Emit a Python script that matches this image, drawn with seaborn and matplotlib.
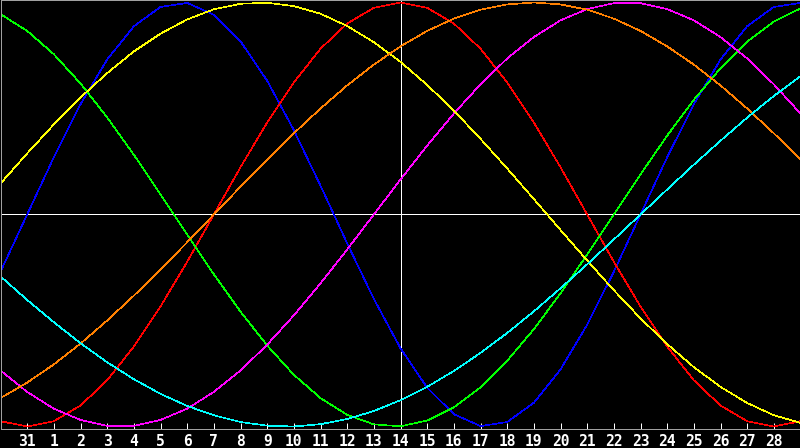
import matplotlib
matplotlib.use("Agg")
import matplotlib.pyplot as plt
import seaborn as sns
import pandas as pd

# x positions: one sample per day (30 Jan ... 1 Mar), day 14 at the centre
days = list(range(31))

tick_pos = [1, 2, 3, 4, 5, 6, 7, 8, 9, 10, 11, 12, 13, 14, 15, 16, 17, 18, 19, 20,
            21, 22, 23, 24, 25, 26, 27, 28, 29]
tick_labels = ["31", "1", "2", "3", "4", "5", "6", "7", "8", "9", "10", "11", "12",
               "13", "14", "15", "16", "17", "18", "19", "20", "21", "22", "23",
               "24", "25", "26", "27", "28"]

physical = [-0.270, 0.000, 0.270, 0.520, 0.731, 0.888, 0.979, 0.998, 0.942, 0.817,
            0.631, 0.398, 0.136, -0.136, -0.398, -0.631, -0.817, -0.942, -0.998, -0.979,
            -0.888, -0.731, -0.520, -0.270, 0.000, 0.270, 0.520, 0.731, 0.888, 0.979, 0.998]
emotional = [-0.975, -1.000, -0.975, -0.901, -0.782, -0.623, -0.434, -0.223, 0.000, 0.223,
             0.434, 0.623, 0.782, 0.901, 0.975, 1.000, 0.975, 0.901, 0.782, 0.623,
             0.434, 0.223, 0.000, -0.223, -0.434, -0.623, -0.782, -0.901, -0.975, -1.000, -0.975]
intellectual = [0.945, 0.866, 0.756, 0.618, 0.458, 0.282, 0.095, -0.095, -0.282, -0.458,
                -0.618, -0.756, -0.866, -0.945, -0.990, -0.999, -0.972, -0.910, -0.815, -0.690,
                -0.541, -0.372, -0.189, 0.000, 0.189, 0.372, 0.541, 0.690, 0.815, 0.910, 0.972]
intuitive = [-0.736, -0.837, -0.916, -0.969, -0.997, -0.997, -0.969, -0.916, -0.837, -0.736,
             -0.614, -0.476, -0.325, -0.165, 0.000, 0.165, 0.325, 0.476, 0.614, 0.736,
             0.837, 0.916, 0.969, 0.997, 0.997, 0.969, 0.916, 0.837, 0.736, 0.614, 0.476]
aesthetic = [0.146, 0.288, 0.425, 0.552, 0.667, 0.769, 0.853, 0.920, 0.968, 0.994,
             0.999, 0.983, 0.947, 0.889, 0.813, 0.720, 0.611, 0.490, 0.357, 0.217,
             0.073, -0.073, -0.217, -0.357, -0.490, -0.611, -0.720, -0.813, -0.889, -0.947, -0.983]
awareness = [-0.866, -0.793, -0.707, -0.609, -0.500, -0.383, -0.259, -0.131, 0.000, 0.131,
             0.259, 0.383, 0.500, 0.609, 0.707, 0.793, 0.866, 0.924, 0.966, 0.991,
             1.000, 0.991, 0.966, 0.924, 0.866, 0.793, 0.707, 0.609, 0.500, 0.383, 0.259]
spiritual = [-0.292, -0.403, -0.508, -0.607, -0.697, -0.777, -0.846, -0.903, -0.947, -0.979,
             -0.996, -1.000, -0.989, -0.965, -0.927, -0.876, -0.813, -0.738, -0.653, -0.559,
             -0.457, -0.348, -0.235, -0.118, 0.000, 0.118, 0.235, 0.348, 0.457, 0.559, 0.653]

series = {
    "Physical": physical,
    "Emotional": emotional,
    "Intellectual": intellectual,
    "Intuitive": intuitive,
    "Aesthetic": aesthetic,
    "Awareness": awareness,
    "Spiritual": spiritual,
}
palette = {
    "Physical": "#0000ff",
    "Emotional": "#ff0000",
    "Intellectual": "#00ff00",
    "Intuitive": "#ff00ff",
    "Aesthetic": "#ffff00",
    "Awareness": "#ff8000",
    "Spiritual": "#00ffff",
}

df = pd.concat(
    [pd.DataFrame({"day": days, "value": vals, "cycle": name}) for name, vals in series.items()],
    ignore_index=True,
)

W, H = 800, 448
fig = plt.figure(figsize=(W / 100, H / 100), dpi=100, facecolor="black")
# plot area: x 0.5..800.5 px, y 0.5..428.5 px (from top)
ax = fig.add_axes([0.5 / W, (H - 428.5) / H, 800 / W, 428 / H])
ax.set_facecolor("black")

px = 0.72  # one pixel in points
thin = 0.45

ax.axhline(0, color="white", lw=thin, zorder=1, antialiased=False)
ax.axvline(15, color="white", lw=thin, zorder=1, antialiased=False)

sns.lineplot(data=df, x="day", y="value", hue="cycle", palette=palette,
             legend=False, linewidth=thin, ax=ax, zorder=2, antialiased=False,
             estimator=None, sort=False)

ax.set_xlim(0, 30)
lim = 214.0 / 212.0
ax.set_ylim(-lim, lim)

ax.set_xticks(tick_pos)
ax.set_xticklabels(tick_labels, fontfamily="DejaVu Sans Mono", fontweight="bold",
                   fontsize=10.5, color="white")
ax.tick_params(axis="x", direction="in", length=4, width=px, color="white", pad=4)
ax.set_yticks([])
ax.set_xlabel("")
ax.set_ylabel("")

for side in ("left", "top", "bottom"):
    ax.spines[side].set_color("#a0a0a0")
    ax.spines[side].set_linewidth(px)
ax.spines["right"].set_visible(False)

fig.savefig("out.png", dpi=100, facecolor="black")
